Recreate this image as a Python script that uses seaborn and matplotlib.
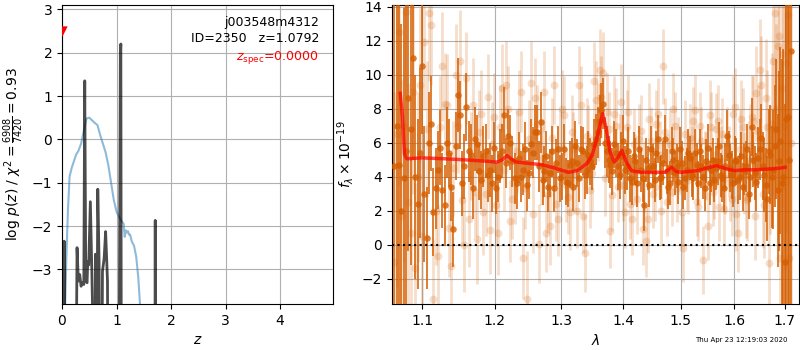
import matplotlib
matplotlib.use("Agg")
import matplotlib.pyplot as plt
import matplotlib.ticker as mticker
import numpy as np
import seaborn as sns

# ---------------- redshift fit: log p(z) ----------------
z_prior = [0.05, 0.08, 0.11, 0.14, 0.18, 0.22, 0.26, 0.30, 0.35, 0.40, 0.45, 0.50,
           0.55, 0.60, 0.65, 0.70, 0.75, 0.80, 0.85, 0.90, 0.95, 1.00, 1.05, 1.10,
           1.13, 1.15, 1.17, 1.19, 1.21, 1.23, 1.25, 1.28, 1.32, 1.36, 1.40, 1.43, 1.46]
logp_prior = [-4.2, -2.74, -1.6, -0.85, -0.65, -0.5, -0.35, -0.27, -0.1, 0.2, 0.48, 0.5,
              0.44, 0.38, 0.33, 0.1, -0.1, -0.3, -0.6, -1.0, -1.4, -1.67, -1.8, -1.9,
              -1.95, -2.25, -2.1, -2.15, -2.12, -2.2, -2.2, -2.36, -2.45, -2.7, -3.2, -3.8, -4.5]

z_pz = [0.0, 0.03, 0.04, 0.05, 0.245, 0.276, 0.30, 0.325, 0.35, 0.374, 0.40, 0.417,
        0.436, 0.46, 0.472, 0.49, 0.52, 0.546, 0.57, 0.60, 0.613, 0.63, 0.656, 0.68,
        0.70, 0.725, 0.742, 0.773, 0.80, 0.816, 0.834, 0.85, 1.04, 1.07, 1.0792, 1.09,
        1.70, 1.71, 1.72, 4.97]
logp_pz = [-8, -8, -2.35, -8, -8, -2.5, -3.27, -3.12, -3.39, -3.31, -3.35, 1.35,
           -3.27, -3.31, -2.82, -2.9, -1.44, -2.97, -4.5, -8, -2.65, -8, -1.15, -2.82,
           -8, -8, -3.05, -2.74, -2.13, -2.66, -3.27, -8, -8, 2.0, 2.2, -8,
           -8, -1.87, -8, -8]

obj_name = "j003548m4312"
obj_id = 2350
z_best = 1.0792
z_spec = 0.0
chi2_num, chi2_den = 6908, 7420

# ---------------- 1D spectrum, two orients ----------------
# wavelength grids (microns) of the two orients
lam_1 = [1.064, 1.070, 1.076, 1.082, 1.088, 1.094, 1.100, 1.106, 1.112, 1.118,
         1.124, 1.130, 1.136, 1.142, 1.148, 1.154, 1.160, 1.166, 1.172, 1.178,
         1.184, 1.190, 1.196, 1.202, 1.208, 1.214, 1.220, 1.226, 1.232, 1.238,
         1.244, 1.250, 1.256, 1.262, 1.268, 1.274, 1.280, 1.286, 1.292, 1.298,
         1.304, 1.310, 1.316, 1.322, 1.328, 1.334, 1.340, 1.346, 1.352, 1.358,
         1.364, 1.370, 1.376, 1.382, 1.388, 1.394, 1.400, 1.406, 1.412, 1.418,
         1.424, 1.430, 1.436, 1.442, 1.448, 1.454, 1.460, 1.466, 1.472, 1.478,
         1.484, 1.490, 1.496, 1.502, 1.508, 1.514, 1.520, 1.526, 1.532, 1.538,
         1.544, 1.550, 1.556, 1.562, 1.568, 1.574, 1.580, 1.586, 1.592, 1.598,
         1.604, 1.610, 1.616, 1.622, 1.628, 1.634, 1.640, 1.646, 1.652, 1.658,
         1.664, 1.670, 1.676, 1.682, 1.688, 1.694, 1.700, 1.706, 1.712]
lam_2 = [1.067, 1.073, 1.079, 1.085, 1.091, 1.097, 1.103, 1.109, 1.115, 1.121,
         1.127, 1.133, 1.139, 1.145, 1.151, 1.157, 1.163, 1.169, 1.175, 1.181,
         1.187, 1.193, 1.199, 1.205, 1.211, 1.217, 1.223, 1.229, 1.235, 1.241,
         1.247, 1.253, 1.259, 1.265, 1.271, 1.277, 1.283, 1.289, 1.295, 1.301,
         1.307, 1.313, 1.319, 1.325, 1.331, 1.337, 1.343, 1.349, 1.355, 1.361,
         1.367, 1.373, 1.379, 1.385, 1.391, 1.397, 1.403, 1.409, 1.415, 1.421,
         1.427, 1.433, 1.439, 1.445, 1.451, 1.457, 1.463, 1.469, 1.475, 1.481,
         1.487, 1.493, 1.499, 1.505, 1.511, 1.517, 1.523, 1.529, 1.535, 1.541,
         1.547, 1.553, 1.559, 1.565, 1.571, 1.577, 1.583, 1.589, 1.595, 1.601,
         1.607, 1.613, 1.619, 1.625, 1.631, 1.637, 1.643, 1.649, 1.655, 1.661,
         1.667, 1.673, 1.679, 1.685, 1.691, 1.697, 1.703, 1.709]

# high-weight spectrum, orient 1
flux_hi_1 = [4.6, 4.7, 3.9, 8.6, 11.0, 2.4, 10.5, 0.4, 7.1, 3.3,
             5.7, 2.3, 5.4, 0.9, 8.8, 3.6, 8.1, 5.3, 6.2, 4.3,
             5.2, 4.1, 3.6, 3.3, 5.2, 7.6, 6.4, 4.9, 3.6, 4.0,
             5.6, 4.2, 5.4, 6.6, 7.2, 4.3, 3.4, 5.5, 4.8, 3.9,
             5.6, 3.6, 4.9, 5.8, 3.9, 5.5, 4.4, 4.9, 5.9, 6.6,
             7.9, 6.0, 5.0, 4.3, 5.4, 4.1, 6.1, 4.6, 3.9, 5.2,
             3.6, 4.4, 2.3, 4.5, 5.6, 3.8, 6.2, 4.0, 6.2, 3.4,
             5.5, 4.2, 3.7, 4.8, 3.9, 5.4, 4.1, 5.4, 3.6, 4.6,
             3.3, 5.7, 4.4, 3.8, 4.9, 4.1, 3.3, 6.4, 4.5, 3.6,
             4.9, 4.0, 3.4, 4.6, 3.0, 6.9, 4.2, 5.1, 6.3, 4.1,
             2.7, 5.3, 4.4, 6.8, 4.9, 3.6, -1.0, 7.5, 11.4]
err_hi_1 = [14, 12, 10, 9, 6, 5, 4, 3, 2.8, 2.4,
            2.2, 2.4, 2.0, 2.2, 2.2, 1.9, 2.0, 1.8, 1.9, 1.7,
            1.8, 1.6, 1.7, 1.5, 1.6, 1.7, 1.6, 1.5, 1.5, 1.5,
            1.6, 1.5, 1.5, 1.6, 1.8, 1.5, 1.5, 1.5, 1.4, 1.4,
            1.5, 1.4, 1.4, 1.5, 1.4, 1.4, 1.4, 1.4, 1.5, 1.5,
            1.6, 1.5, 1.4, 1.4, 1.4, 1.4, 1.5, 1.4, 1.4, 1.4,
            1.4, 1.3, 1.5, 1.3, 1.4, 1.3, 1.4, 1.3, 1.4, 1.3,
            1.4, 1.3, 1.3, 1.3, 1.3, 1.4, 1.3, 1.4, 1.3, 1.3,
            1.3, 1.4, 1.3, 1.3, 1.4, 1.3, 1.4, 1.5, 1.4, 1.4,
            1.4, 1.4, 1.4, 1.5, 1.5, 1.7, 1.6, 1.8, 2.0, 2.2,
            2.5, 2.9, 3.5, 4.1, 5.3, 7.3, 9.3, 14, 20]

# high-weight spectrum, orient 2
flux_hi_2 = [7.0, 2.0, 5.5, 6.8, 4.0, 5.4, 3.0, 6.0, 1.9, 4.4,
             3.2, 6.0, 3.4, 5.8, 7.6, 4.6, 5.5, 3.3, 5.9, 3.8,
             5.5, 4.4, 5.7, 4.0, 5.5, 4.8, 6.0, 3.9, 5.1, 4.4,
             3.5, 5.9, 6.6, 4.6, 3.8, 5.2, 4.2, 3.3, 5.6, 4.0,
             3.7, 4.7, 3.4, 4.8, 5.6, 4.1, 5.3, 4.6, 6.2, 7.3,
             8.3, 5.5, 4.7, 5.9, 4.6, 5.2, 4.4, 5.5, 3.7, 4.9,
             5.6, 3.9, 5.0, 3.5, 4.6, 5.4, 3.9, 4.8, 4.3, 3.6,
             5.0, 4.6, 5.6, 3.4, 4.4, 5.1, 3.9, 4.7, 5.5, 4.0,
             4.9, 3.6, 5.0, 4.5, 5.8, 3.9, 4.6, 5.3, 4.1, 5.0,
             3.8, 5.2, 4.4, 5.6, 4.0, 5.0, 3.7, 5.6, 4.6, 3.5,
             5.5, 4.0, 5.8, 3.2, 6.1, 4.0, 7.4, 5.0]
err_hi_2 = [13, 11, 10, 8, 6, 5, 4, 3, 2.6, 2.3,
            2.2, 2.1, 2.0, 2.0, 2.0, 1.9, 1.8, 1.8, 1.7, 1.7,
            1.6, 1.6, 1.5, 1.5, 1.6, 1.5, 1.6, 1.5, 1.5, 1.5,
            1.5, 1.5, 1.6, 1.5, 1.5, 1.5, 1.4, 1.4, 1.4, 1.4,
            1.4, 1.4, 1.4, 1.4, 1.4, 1.4, 1.4, 1.4, 1.5, 1.5,
            1.5, 1.5, 1.4, 1.4, 1.4, 1.4, 1.4, 1.4, 1.4, 1.4,
            1.4, 1.4, 1.3, 1.3, 1.3, 1.3, 1.3, 1.3, 1.3, 1.3,
            1.3, 1.3, 1.3, 1.3, 1.3, 1.3, 1.3, 1.3, 1.3, 1.3,
            1.3, 1.3, 1.3, 1.3, 1.4, 1.4, 1.4, 1.4, 1.4, 1.4,
            1.4, 1.4, 1.5, 1.5, 1.5, 1.6, 1.7, 1.8, 2.0, 2.2,
            2.5, 3.0, 3.6, 4.5, 5.5, 7.5, 11, 16]

# low-weight spectrum, orient 2
flux_lo_2 = [6.5, 1.7, 13.7, 0.7, -1.4, 9.4, 11.9, 13.6, -3.2, -0.7,
             10.5, 8.2, -1.25, 10.0, 10.8, 0.0, 1.5, 8.2, 0.3, 7.7,
             3.0, 0.85, 7.5, 0.7, 9.2, 9.4, 1.4, 3.6, 7.8, -0.8,
             -3.2, 9.5, 8.6, 0.06, 5.1, 0.7, 1.1, 9.4, 1.5, 8.0,
             3.5, 1.9, 5.6, 2.0, 8.2, -0.5, 6.0, 4.2, 8.5, 10.3,
             10.1, 7.8, 0.8, 7.7, 3.4, 8.4, 1.9, 7.8, 1.5, 4.4,
             6.2, 0.9, 0.2, 7.4, 3.0, 7.1, 5.3, 10.5, 2.5, 5.9,
             8.0, 3.3, 5.0, -0.2, 4.0, 6.3, 7.3, 2.5, 7.0, -0.9,
             4.6, 7.6, 3.1, 6.8, 2.2, 6.5, 3.9, 4.9, 2.7, 8.1,
             0.7, 7.4, 4.2, 2.6, 5.8, 7.3, 8.9, 10.3, 3.0, 8.6,
             -1.1, 7.1, 13.6, 11.7, -0.8, 11.2, 10.7, -0.8]
err_lo_2 = [9, 8, 7, 6, 5, 4.5, 4, 4, 3.5, 3,
            3.2, 3, 3, 3, 3, 2.8, 2.8, 2.8, 2.6, 2.6,
            2.5, 2.6, 2.6, 2.5, 2.6, 2.6, 2.4, 2.4, 2.5, 2.4,
            2.8, 2.5, 2.4, 2.3, 2.3, 2.3, 2.3, 2.3, 2.2, 2.3,
            2.2, 2.2, 2.2, 2.2, 2.3, 2.3, 2.2, 2.2, 2.3, 2.4,
            2.4, 2.3, 2.2, 2.2, 2.1, 2.2, 2.1, 2.2, 2.1, 2.1,
            2.1, 2.1, 2.1, 2.1, 2.0, 2.0, 2.0, 2.2, 2.0, 2.0,
            2.1, 2.0, 2.0, 2.0, 2.0, 2.0, 2.0, 2.0, 2.0, 2.0,
            2.0, 2.1, 2.0, 2.1, 2.0, 2.1, 2.1, 2.1, 2.2, 2.3,
            2.3, 2.3, 2.4, 2.4, 2.5, 2.6, 2.8, 3.0, 3.2, 3.5,
            3.8, 4.2, 4.8, 5.5, 6.5, 8, 10, 12]

# low-weight spectrum, orient 1
flux_lo_1 = [-1.0, 12.5, 7.0, 2.5, 9.0, 4.0, 0.5, 6.8, 12.9, 2.0,
             6.9, 8.3, 1.0, 4.5, 7.0, 2.6, 9.8, 5.2, 3.1, 6.6,
             1.9, 8.7, 5.9, 2.3, 6.9, 4.4, 8.0, 2.7, 5.5, 9.0,
             3.3, 6.2, 1.8, 7.1, 4.6, 9.0, 3.0, 6.3, 2.4, 5.7,
             7.6, 2.8, 6.6, 4.1, 9.4, 1.7, 6.4, 3.2, 9.6, 7.2,
             8.7, 3.9, 6.8, 2.9, 7.0, 5.6, 3.5, 6.9, 2.4, 5.9,
             2.7, 6.7, 4.0, 1.5, 6.1, 3.4, 7.7, 2.0, 6.6, 4.5,
             3.1, 7.0, 5.5, 1.9, 6.5, 3.8, 5.0, 7.9, 2.2, 6.1,
             4.7, 1.1, 6.9, 3.5, 7.3, 4.9, 2.1, 6.0, 3.6, 7.7,
             1.8, 5.6, 6.9, 2.8, 4.9, 7.5, 1.7, 6.7, 9.4, 2.3,
             6.9, 4.4, 10.8, 8.0, 12.3, 9.2, 7.0, 13.5, 6.0]
err_lo_1 = [10, 9, 8, 7, 6, 5, 4.5, 4, 3.5, 3.2,
            3.0, 3.0, 2.9, 2.8, 2.8, 2.7, 2.7, 2.6, 2.6, 2.5,
            2.5, 2.5, 2.5, 2.4, 2.5, 2.4, 2.5, 2.4, 2.4, 2.4,
            2.4, 2.3, 2.3, 2.3, 2.3, 2.4, 2.3, 2.3, 2.2, 2.2,
            2.3, 2.2, 2.2, 2.2, 2.3, 2.2, 2.2, 2.2, 2.3, 2.3,
            2.4, 2.2, 2.2, 2.1, 2.2, 2.1, 2.1, 2.2, 2.1, 2.1,
            2.1, 2.1, 2.1, 2.0, 2.0, 2.0, 2.1, 2.0, 2.0, 2.0,
            2.0, 2.0, 2.0, 2.0, 2.0, 2.0, 2.0, 2.1, 2.0, 2.0,
            2.0, 2.0, 2.1, 2.0, 2.1, 2.1, 2.1, 2.1, 2.2, 2.2,
            2.2, 2.3, 2.3, 2.4, 2.4, 2.5, 2.6, 2.7, 2.9, 3.1,
            3.4, 3.8, 4.3, 5.0, 5.8, 7.0, 8.5, 10, 12]

# best-fit template
lam_model = [1.0715, 1.0745, 1.077, 1.080, 1.10, 1.13, 1.16, 1.19, 1.203, 1.212,
             1.218, 1.224, 1.232, 1.245, 1.27, 1.29, 1.311, 1.325, 1.34, 1.349,
             1.357, 1.366, 1.372, 1.378, 1.385, 1.391, 1.398, 1.405, 1.414, 1.43,
             1.45, 1.472, 1.484, 1.492, 1.50, 1.53, 1.566, 1.585, 1.60, 1.62,
             1.64, 1.67, 1.69, 1.7005]
flux_model = [8.9, 7.5, 5.3, 5.05, 5.1, 5.05, 4.98, 4.9, 4.85, 5.0,
              5.24, 5.05, 4.85, 4.8, 4.7, 4.5, 4.25, 4.35, 4.75, 5.24,
              6.3, 7.7, 6.8, 5.5, 4.85, 5.1, 5.54, 4.9, 4.35, 4.25,
              4.25, 4.25, 4.55, 4.3, 4.25, 4.35, 4.65, 4.45, 4.35, 4.4,
              4.4, 4.45, 4.5, 4.55]

wave_ticks = [1.1, 1.2, 1.3, 1.4, 1.5, 1.6, 1.7]
timestamp = "Thu Apr 23 12:19:03 2020"

GRISM = "#d55e00"

fig = plt.figure(figsize=(8, 3.5), dpi=100)
ax1 = fig.add_axes([62 / 800, 46 / 350, 271 / 800, 299 / 350])
ax2 = fig.add_axes([392 / 800, 46 / 350, 407 / 800, 299 / 350])

# ---- left: p(z) ----
sns.lineplot(x=z_prior, y=logp_prior, ax=ax1, color="tab:blue", alpha=0.5,
             linewidth=1.5, estimator=None, sort=False)
sns.lineplot(x=z_pz, y=logp_pz, ax=ax1, color="k", alpha=0.7,
             linewidth=2, estimator=None, sort=False)

pz_max = max(logp_pz)
ax1.set_ylim(pz_max - 6, pz_max + 0.9)
ax1.set_xlim(0, 4.97)
sns.scatterplot(x=[z_spec], y=[pz_max + 0.3], marker="v", color="red", s=55,
                linewidth=0, ax=ax1, zorder=5)

ax1.text(0.948, 0.940, obj_name, transform=ax1.transAxes, ha="right", va="center", fontsize=9)
ax1.text(0.948, 0.889, f"ID={obj_id}   z={z_best:.4f}", transform=ax1.transAxes,
         ha="right", va="center", fontsize=9)
ax1.text(0.948, 0.826, r"$z_\mathrm{spec}$" + f"={z_spec:.4f}", transform=ax1.transAxes,
         ha="right", va="center", fontsize=9, color="red")
ax1.set_xlabel(r"$z$")
ax1.set_ylabel(r"log $p(z)$ / $\chi^2=\frac{%d}{%d}=%.2f$"
               % (chi2_num, chi2_den, chi2_num / chi2_den))
ax1.set_xticks([0, 1, 2, 3, 4])
ax1.grid(True)

# ---- right: spectrum ----
ax2.set_xscale("log")


def draw_spec(lam, flux, err, alpha, lw, size, z):
    lam, flux, err = np.asarray(lam), np.asarray(flux), np.asarray(err)
    ax2.vlines(lam, flux - err, flux + err, color=GRISM, alpha=alpha, linewidth=lw, zorder=z)
    sns.scatterplot(x=lam, y=flux, color=GRISM, alpha=alpha, s=size, linewidth=0,
                    ax=ax2, zorder=z)


draw_spec(lam_2, flux_lo_2, err_lo_2, 0.2, 2.0, 32, 2)
draw_spec(lam_1, flux_lo_1, err_lo_1, 0.2, 2.0, 32, 2)
draw_spec(lam_1, flux_hi_1, err_hi_1, 0.8, 1.4, 22, 3)
draw_spec(lam_2, flux_hi_2, err_hi_2, 0.8, 1.4, 22, 3)

sns.lineplot(x=lam_model, y=flux_model, color="red", alpha=0.7, linewidth=2.5,
             ax=ax2, estimator=None, sort=False, zorder=4)
ax2.axhline(0, color="k", linestyle=":", linewidth=1.5, zorder=5)

ax2.set_xlim(1.061, 1.729)
ax2.set_ylim(-3.5, 14.1)
ax2.xaxis.set_major_locator(mticker.FixedLocator(wave_ticks))
ax2.xaxis.set_minor_locator(mticker.NullLocator())
ax2.xaxis.set_major_formatter(mticker.FormatStrFormatter("%.1f"))
ax2.set_xlabel(r"$\lambda$")
ax2.set_ylabel(r"$f_\lambda \times 10^{-19}$")
ax2.grid(True)

fig.text(0.984, 0.029, timestamp, ha="right", va="center", fontsize=5)

fig.savefig("out.png", dpi=100)
